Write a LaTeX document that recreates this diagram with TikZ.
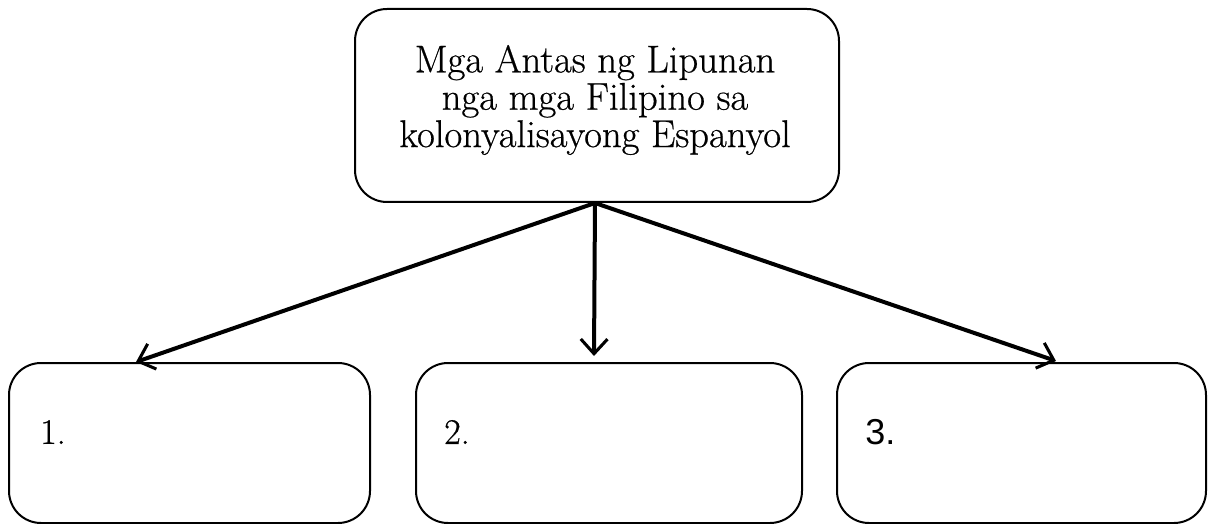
\documentclass[tikz,border=0pt]{standalone}
\usepackage{fontspec}
\newfontfamily\arialfont{Liberation Sans}
\newfontfamily\lmheavy{Latin Modern Roman}[FakeBold=0.6]
\usetikzlibrary{arrows.meta,calc}
\tikzset{
  box/.style={draw=black, line width=1.5pt, rounded corners=24pt, inner sep=0pt},
  conn/.style={line width=3pt, -{Straight Barb[length=11pt,width=20pt,line width=2.3pt]}},
  num/.style={anchor=west, inner sep=0pt, font=\lmheavy\fontsize{27}{30}\selectfont}
}
\begin{document}
\begin{tikzpicture}[x=0.75pt,y=-0.75pt]
\useasboundingbox (0,0) rectangle (1208,524);
\node[box, minimum width=363pt, minimum height=144.75pt] (top) at (597,105.5) {};
\node[align=center, inner sep=0pt, font=\lmheavy\fontsize{29}{28}\selectfont] (toptext) at (595,100)
  {Mga Antas ng Lipunan\\nga mga Filipino sa\\kolonyalisayong Espanyol};
\node[box, minimum width=270.75pt, minimum height=120pt] (b1) at (189.5,443) {};
\node[box, minimum width=289.5pt, minimum height=120pt] (b2) at (609,443) {};
\node[box, minimum width=276.75pt, minimum height=120pt] (b3) at (1021.5,443) {};
\node[num] (n1) at (40,432) {1.};
\node[num] (n2) at (444,432) {2.};
\node[num, font=\arialfont\fontsize{27}{30}\selectfont] (n3) at (865,432) {3.};
\coordinate (s) at ($(top.south)+(-2,0)$);
\coordinate (e1) at ($(b1.north west)+(128,0)$);
\coordinate (e2) at ($(b2.north)+(-15,-6)$);
\coordinate (e3) at ($(b3.north west)+(220,-1)$);
\draw[conn] (s) -- (e1);
\draw[conn] (s) -- (e2);
\draw[conn] (s) -- (e3);
\end{tikzpicture}
\end{document}
